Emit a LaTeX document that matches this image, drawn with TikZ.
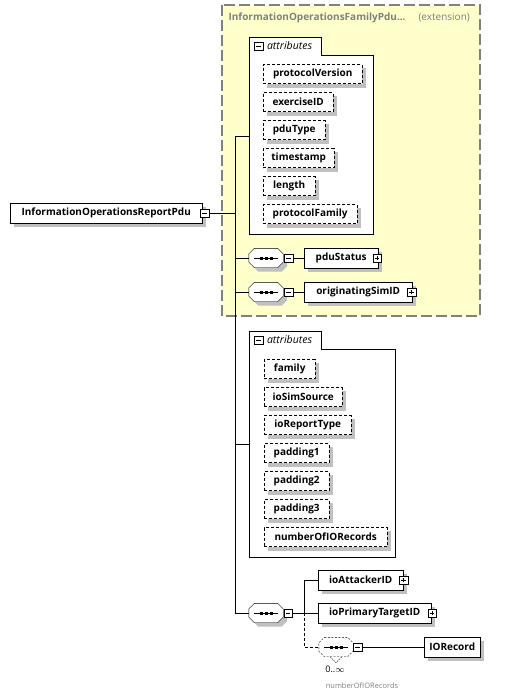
\documentclass[tikz,border=0pt]{standalone}
\usepackage{fontspec}
\setmainfont{Open Sans}

\definecolor{extfill}{HTML}{FFFFCC}
\definecolor{extline}{HTML}{808080}
\definecolor{shadowgray}{HTML}{C0C0C0}

\pgfdeclarelayer{ext}
\pgfdeclarelayer{shade}
\pgfsetlayers{ext,shade,main}

\tikzset{
  elembox/.style={draw, fill=white, minimum height=20pt, inner sep=0pt, anchor=west,
    font=\bfseries\fontsize{10}{12}\selectfont},
  attrbox/.style={elembox, dash pattern=on 3pt off 2pt, minimum height=19pt},
  seqbox/.style={minimum width=34pt, minimum height=19pt, inner sep=0pt},
  minusbox/.style={draw, fill=white, minimum size=8.5pt, inner sep=0pt,
    path picture={\draw ([xshift=2pt]path picture bounding box.west) -- ([xshift=-2pt]path picture bounding box.east);}},
  plusbox/.style={minusbox,
    path picture={\draw ([xshift=2pt]path picture bounding box.west) -- ([xshift=-2pt]path picture bounding box.east);
                  \draw ([yshift=2pt]path picture bounding box.south) -- ([yshift=-2pt]path picture bounding box.north);}},
  tabtext/.style={anchor=west, font=\itshape\fontsize{10.5}{12}\selectfont},
  shadowfill/.style={fill=shadowgray, draw=none, transform canvas={shift={(4pt,-4pt)}}},
}

% grey shadow behind a box
\newcommand{\boxshadow}[1]{%
  \begin{pgfonlayer}{shade}
    \fill[shadowgray] ([shift={(4pt,-4pt)}]#1.south west) rectangle ([shift={(4pt,-4pt)}]#1.north east);
  \end{pgfonlayer}}

% octagon round a sequence node
\newcommand{\octagon}[2]{%
  \draw[#2] ([xshift=5.5pt]#1.north west) -- ([xshift=-5.5pt]#1.north east) -- ([yshift=-5.5pt]#1.north east)
    -- ([yshift=5.5pt]#1.south east) -- ([xshift=-5.5pt]#1.south east) -- ([xshift=5.5pt]#1.south west)
    -- ([yshift=5.5pt]#1.south west) -- ([yshift=-5.5pt]#1.north west) -- cycle;}
\newcommand{\octshadow}[1]{%
  \begin{pgfonlayer}{shade}\octagon{#1}{shadowfill}\end{pgfonlayer}}

% three dots inside a sequence box
\newcommand{\seqmark}[1]{%
  \draw ([xshift=-12pt]#1.center) -- ([xshift=12pt]#1.center);
  \foreach \dx in {-5,0,5}
    \fill ([xshift=\dx pt]#1.center) +(-1.5pt,-1.5pt) rectangle +(1.5pt,1.5pt);
}

\begin{document}
\begin{tikzpicture}[x=1pt, y=-1pt, line width=0.9pt]
  \useasboundingbox (0,0) rectangle (523,697);

  %===========================
  % Extension base
  %===========================
  \begin{pgfonlayer}{ext}
    \draw[extline, line width=1.1pt, dash pattern=on 11pt off 4pt, fill=extfill] (222,5) rectangle (480,316);
    % attribute groups
    \draw[fill=white] (249,234) -- (249,37) -- (321,37) -- (321,55) -- (373,55) -- (373,234) -- cycle;
    \draw[fill=white] (249,557) -- (249,331) -- (321,331) -- (321,349) -- (395,349) -- (395,557) -- cycle;
  \end{pgfonlayer}
  \node[anchor=west, text=extline, font=\bfseries\fontsize{10}{12}\selectfont] (exttitle) at (225,18) {InformationOperationsFamilyPdu...};
  \node[anchor=west, text=extline, font=\fontsize{10}{12}\selectfont] (extnote) at (415,18) {(extension)};

  %===========================
  % Root element
  %===========================
  \node[elembox, minimum width=192pt] (root) at (10,213) {InformationOperationsReportPdu};
  \boxshadow{root}
  \node[minusbox] (rootm) at (204.5,213) {};
  \coordinate (trunk) at (235,136);
  \coordinate (trunkend) at (235,613);
  \draw (trunk) -- (trunkend);
  \draw (rootm.east) -- (rootm.east -| trunk);

  %===========================
  % Inherited attributes
  %===========================
  \node[minusbox] (attrsAm) at (258.5,46) {};
  \node[tabtext] (attrsAt) at (263.5,46) {attributes};
  \coordinate (attrsA) at (249,136);
  \draw (trunk) -- (attrsA);

  \node[attrbox, minimum width=99pt] (protocolVersion) at (263,74) {protocolVersion};
  \node[attrbox, minimum width=70pt] (exerciseID) at (263,102) {exerciseID};
  \node[attrbox, minimum width=62pt] (pduType) at (263,130) {pduType};
  \node[attrbox, minimum width=71pt] (timestamp) at (263,158) {timestamp};
  \node[attrbox, minimum width=52pt] (length) at (263,186) {length};
  \node[attrbox, minimum width=94pt] (protocolFamily) at (263,214) {protocolFamily};
  \foreach \n in {protocolVersion,exerciseID,pduType,timestamp,length,protocolFamily}
    {\boxshadow{\n}}

  %===========================
  % Inherited sequences
  %===========================
  \node[seqbox] (seqA) at (266,258) {};
  \octshadow{seqA}
  \octagon{seqA}{fill=white}
  \seqmark{seqA}
  \node[minusbox] (seqAm) at (288.5,258) {};
  \node[elembox, minimum width=74pt] (pduStatus) at (304,258) {pduStatus};
  \boxshadow{pduStatus}
  \node[plusbox] (pduStatusp) at (377,258) {};
  \draw (seqA.west -| trunk) -- (seqA.west);
  \draw (seqAm.east) -- (pduStatus.west);

  \node[seqbox] (seqB) at (266,292) {};
  \octshadow{seqB}
  \octagon{seqB}{fill=white}
  \seqmark{seqB}
  \node[minusbox] (seqBm) at (288.5,292) {};
  \node[elembox, minimum width=108pt] (originatingSimID) at (304,292) {originatingSimID};
  \boxshadow{originatingSimID}
  \node[plusbox] (originatingSimIDp) at (411.5,292) {};
  \draw (seqB.west -| trunk) -- (seqB.west);
  \draw (seqBm.east) -- (originatingSimID.west);

  %===========================
  % Own attributes
  %===========================
  \node[minusbox] (attrsBm) at (258.5,340) {};
  \node[tabtext] (attrsBt) at (263.5,340) {attributes};
  \coordinate (attrsB) at (249,444);
  \draw (attrsB -| trunk) -- (attrsB);

  \node[attrbox, minimum width=51pt] (family) at (264,369) {family};
  \node[attrbox, minimum width=78pt] (ioSimSource) at (264,397) {ioSimSource};
  \node[attrbox, minimum width=87pt] (ioReportType) at (264,425) {ioReportType};
  \node[attrbox, minimum width=65pt] (padding1) at (264,453) {padding1};
  \node[attrbox, minimum width=65pt] (padding2) at (264,481) {padding2};
  \node[attrbox, minimum width=65pt] (padding3) at (264,509) {padding3};
  \node[attrbox, minimum width=123pt] (numberOfIORecords) at (264,537) {numberOfIORecords};
  \foreach \n in {family,ioSimSource,ioReportType,padding1,padding2,padding3,numberOfIORecords}
    {\boxshadow{\n}}

  %===========================
  % Own sequence
  %===========================
  \node[seqbox] (seqC) at (266,613) {};
  \octshadow{seqC}
  \octagon{seqC}{fill=white}
  \seqmark{seqC}
  \node[minusbox] (seqCm) at (288,613) {};
  \draw (trunkend) -- (seqC.west);
  \coordinate (branch) at (304,613);

  \node[elembox, minimum width=85pt] (ioAttackerID) at (318,580) {ioAttackerID};
  \boxshadow{ioAttackerID}
  \node[plusbox] (ioAttackerIDp) at (403.5,580) {};
  \node[elembox, minimum width=113pt] (ioPrimaryTargetID) at (318,613) {ioPrimaryTargetID};
  \boxshadow{ioPrimaryTargetID}
  \node[plusbox] (ioPrimaryTargetIDp) at (432,613) {};
  \draw (seqCm.east) -- (ioPrimaryTargetID.west);
  \draw (branch) |- (ioAttackerID.west);

  % repeated records
  \node[seqbox] (seqD) at (336,647) {};
  \octagon{seqD}{fill=white, dash pattern=on 2pt off 1.5pt}
  \seqmark{seqD}
  \node[minusbox] (seqDm) at (357.5,647) {};
  \node[elembox, minimum width=56pt] (IORecord) at (424,647) {IORecord};
  \boxshadow{IORecord}
  \draw[dash pattern=on 3pt off 2pt] (branch) |- (seqD.west);
  \draw (seqDm.east) -- (IORecord.west);
  \draw[dash pattern=on 1.5pt off 1pt] ([xshift=-6pt]seqD.south) -- ([yshift=-6pt]seqD.south) -- ([xshift=6pt]seqD.south);
  \node[font=\fontsize{9}{11}\selectfont, inner sep=0pt] (seqDrange) at (335,669) {0..$\infty$};
  \node[text=extline, font=\fontsize{7.5}{9}\selectfont, inner sep=0pt] (seqDname) at (362,686) {numberOfIORecords};

\end{tikzpicture}
\end{document}
